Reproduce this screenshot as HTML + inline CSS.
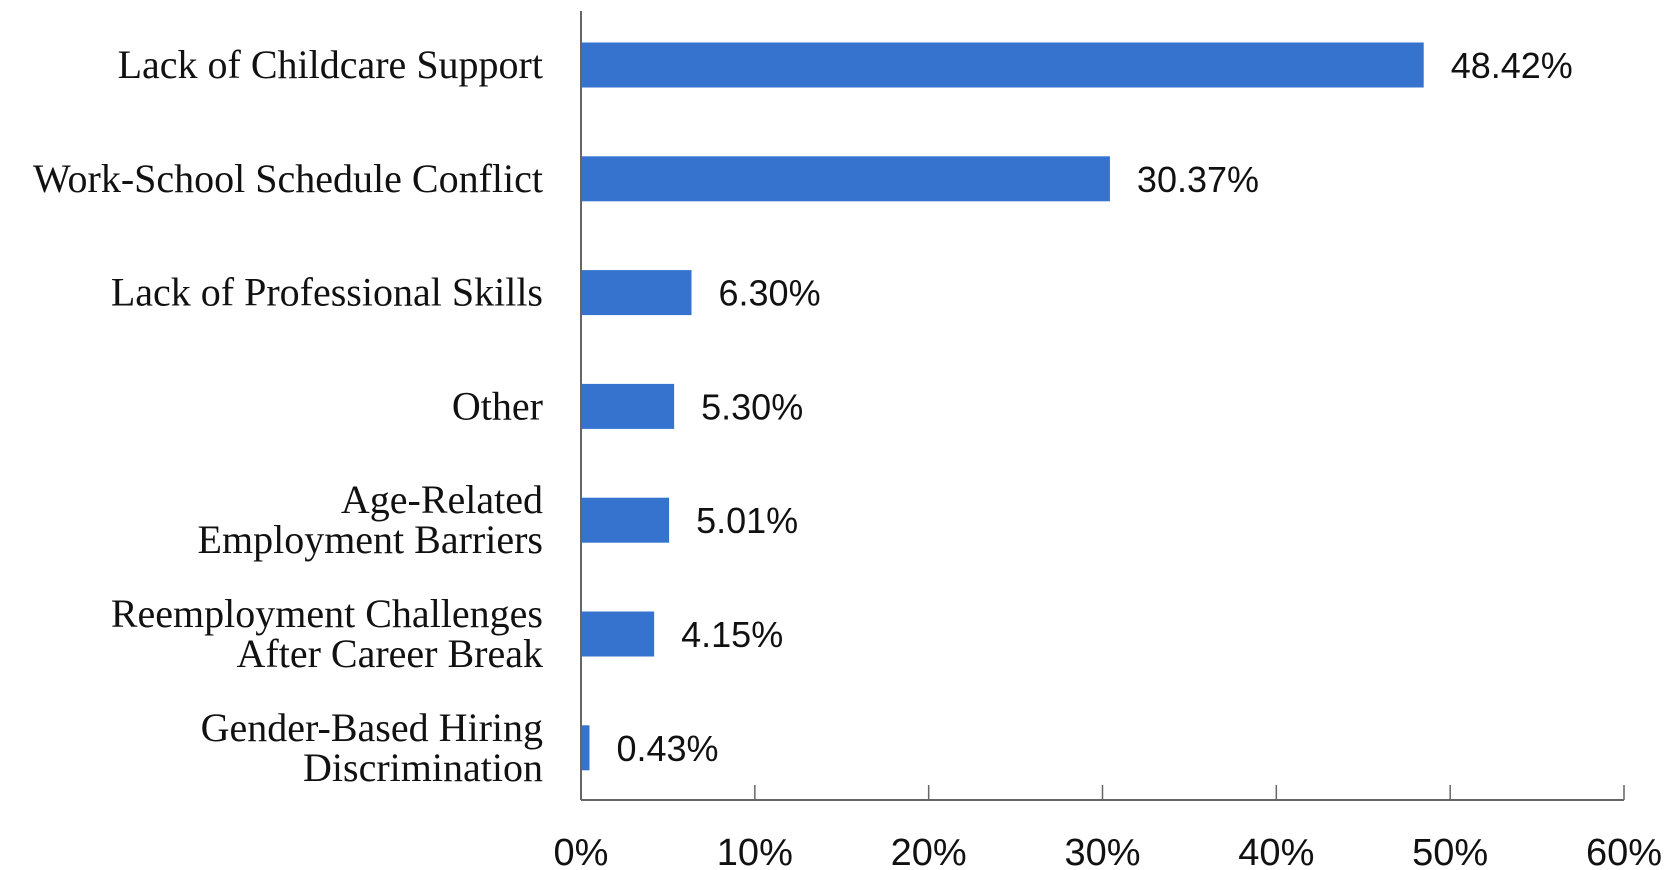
<!DOCTYPE html>
<html><head><meta charset="utf-8"><style>
html,body{margin:0;padding:0;background:#fff;}
svg{display:block;}
</style></head><body>
<svg id="chart" width="1665" height="870" viewBox="0 0 1665 870" xmlns="http://www.w3.org/2000/svg"></svg>
<script>
const categories = [
  ["Lack of Childcare Support"],
  ["Work-School Schedule Conflict"],
  ["Lack of Professional Skills"],
  ["Other"],
  ["Age-Related", "Employment Barriers"],
  ["Reemployment Challenges", "After Career Break"],
  ["Gender-Based Hiring", "Discrimination"]
];
const values = [48.42, 30.37, 6.30, 5.30, 5.01, 4.15, 0.43];
const valueLabels = ["48.42%", "30.37%", "6.30%", "5.30%", "5.01%", "4.15%", "0.43%"];
const ticks = [0, 10, 20, 30, 40, 50, 60];
const tickLabels = ["0%", "10%", "20%", "30%", "40%", "50%", "60%"];

const NS = "http://www.w3.org/2000/svg";
const svg = document.getElementById("chart");
const x0 = 581, x1 = 1624, yTop = 11, yBottom = 800;
const firstCenter = 65, step = 113.8, barH = 45;
function xScale(v){ return x0 + (v - 0) / (60 - 0) * (x1 - x0); }
function yScale(i){ return firstCenter + i * step; }
function mk(tag, attrs){ const e = document.createElementNS(NS, tag); for (const k in attrs) e.setAttribute(k, attrs[k]); svg.appendChild(e); return e; }

categories.forEach((lines, i) => {
  const cy = yScale(i);
  const bar = mk("rect", {x: xScale(0)+1, y: cy - barH/2, width: xScale(values[i]) - xScale(0), height: barH, fill: "#3673cf"});
  
  
  const vl = mk("text", {x: xScale(values[i]) + 28, y: cy + 13, "font-family": "Liberation Sans, sans-serif", "font-size": "36", fill: "#111"});
  vl.textContent = valueLabels[i];
  
  
  const lh = 40;
  lines.forEach((ln, j) => {
    const t = mk("text", {x: 543, y: cy + 13 + (j - (lines.length - 1) / 2) * lh, "text-anchor": "end", "font-family": "Liberation Serif, serif", "font-size": "40", fill: "#111"});
    t.textContent = ln;
    
    
  });
});

const yAxis = mk("line", {x1: x0, y1: yTop, x2: x0, y2: yBottom, stroke: "#666", "stroke-width": "2"});


const xAxis = mk("line", {x1: x0, y1: yBottom, x2: x1, y2: yBottom, stroke: "#666", "stroke-width": "2"});


ticks.forEach((tv, i) => {
  const x = xScale(tv);
  const tk = mk("line", {x1: x, y1: yBottom - 15, x2: x, y2: yBottom, stroke: "#666", "stroke-width": "1.5"});
  
  
  const tl = mk("text", {x: x, y: 865, "text-anchor": "middle", "font-family": "Liberation Sans, sans-serif", "font-size": "38", fill: "#111"});
  tl.textContent = tickLabels[i];
  
  
});
</script>
</body></html>
